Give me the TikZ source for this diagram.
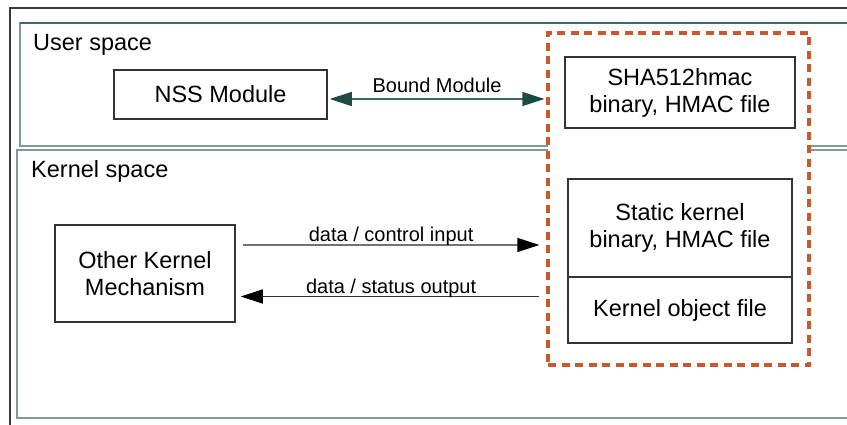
\documentclass[tikz,border=0pt]{standalone}
\usepackage{fontspec}
\setmainfont{Liberation Sans}
\usetikzlibrary{arrows.meta}
\definecolor{frameC}{HTML}{3A3A3A}
\definecolor{spaceC}{HTML}{7D9A98}
\definecolor{spaceTop}{HTML}{3E6A64}
\definecolor{dashC}{HTML}{C65A2C}
\definecolor{boxC}{HTML}{333333}
\definecolor{bmLine}{HTML}{3A6A64}
\definecolor{bmHead}{HTML}{1D4A42}
\tikzset{
  mainfont/.style={font=\fontsize{23.5}{27}\selectfont},
  lblfont/.style={font=\fontsize{20}{23}\selectfont},
  blockbox/.style={draw=boxC, line width=1.5pt, fill=white, mainfont, align=center, inner sep=0pt},
  spacebox/.style={draw=spaceC, line width=1.6pt},
  groupbox/.style={draw=dashC, line width=3.2pt, dash pattern=on 8pt off 5.5pt, fill=white},
}
\begin{document}
\begin{tikzpicture}[x=1pt,y=-1pt]
\useasboundingbox (0,0) rectangle (847,425);
\fill[white] (0,0) rectangle (847,425);
\clip (0,0) rectangle (847,425);
% outer frame
\draw[frameC, line width=1.3pt] (10,8) rectangle (880,440);
% user space and kernel space
\draw[spacebox] (20,23) rectangle (880,146);
\draw[spaceTop, line width=1.6pt] (20,23) -- (880,23);
\draw[spacebox] (17,150) rectangle (880,418);
\node[mainfont, anchor=base west, inner sep=0pt] (us) at (33,50.5) {User space};
\node[mainfont, anchor=base west, inner sep=0pt] (ks) at (31,178) {Kernel space};
% dashed group
\node[groupbox, minimum width=261pt, minimum height=332pt, inner sep=0pt] (grp) at (678.5,199) {};
% blocks
\node[blockbox, minimum width=213pt, minimum height=49pt] (nss) at (220.5,94.5) {NSS Module};
\node[blockbox, minimum width=230pt, minimum height=71pt] (sha) at (680,92.5) {SHA512hmac\\binary, HMAC file};
\node[blockbox, minimum width=224pt, minimum height=98pt] (stat) at (680,228) {Static kernel\\binary, HMAC file};
\node[blockbox, minimum width=224pt, minimum height=66pt] (kobj) at (680,310) {Kernel object file};
\node[blockbox, minimum width=180pt, minimum height=97pt] (oth) at (145,273.5) {Other Kernel\\Mechanism};
% connectors
\coordinate (bmy) at (0,99);
\coordinate (ciy) at (0,245);
\coordinate (soy) at (0,296.5);
\draw[bmLine, line width=1.2pt, {Triangle[length=22pt,width=14pt,color=bmHead]}-{Triangle[length=22pt,width=14pt,color=bmHead]}, shorten <=2pt, shorten >=2pt]
  (nss.east |- bmy) -- (grp.west |- bmy)
  node[midway, lblfont, anchor=base, yshift=6.5pt, inner sep=0pt, text=black] {Bound Module};
\draw[black!55, line width=1.2pt, -{Triangle[length=22pt,width=14pt,color=black]}, shorten <=7pt, shorten >=7pt]
  (oth.east |- ciy) -- (grp.west |- ciy)
  node[midway, lblfont, anchor=base, yshift=4pt, inner sep=0pt, text=black] {data / control input};
\draw[boxC, line width=1.2pt, -{Triangle[length=22pt,width=14pt,color=black]}, shorten <=7pt, shorten >=5pt]
  (grp.west |- soy) -- (oth.east |- soy)
  node[midway, lblfont, anchor=base, yshift=3.5pt, inner sep=0pt, text=black] {data / status output};
\end{tikzpicture}
\end{document}
